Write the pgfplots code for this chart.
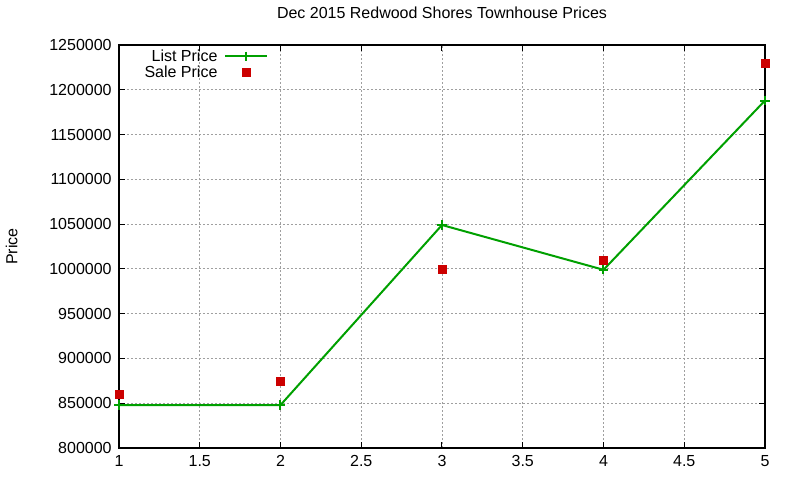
\documentclass[border=0pt]{standalone}
\usepackage{fontspec}
\setmainfont{Liberation Sans}
\usepackage{pgfplots}
\pgfplotsset{compat=1.18}
\definecolor{lgreen}{RGB}{0,160,0}
\definecolor{sred}{RGB}{204,0,0}
\pgfplotsset{
  longline/.style={legend image code/.code={\path (0cm,0cm); \draw[mark repeat=2,mark phase=2,##1] plot coordinates {(0.15cm,0cm) (0.7cm,0cm) (1.25cm,0cm)};}},
  midmark/.style={legend image code/.code={\path (0cm,0cm) (1.25cm,0cm); \draw[##1] plot coordinates {(0.7cm,0cm)};}},
}
\begin{document}
\begin{tikzpicture}
\path[use as bounding box] (-89.25pt,-24pt) rectangle (510.75pt,336pt);
\begin{axis}[
  at={(0pt,0pt)}, anchor=south west,
  scale only axis, width=484.5pt, height=302.25pt,
  xmin=1, xmax=5, ymin=800000, ymax=1250000,
  xtick={1,1.5,2,2.5,3,3.5,4,4.5,5},
  ytick={800000,850000,...,1250000},
  scaled y ticks=false,
  /pgf/number format/assume math mode=true,
  yticklabel style={/pgf/number format/fixed,/pgf/number format/1000 sep={}, xshift=-2pt},
  xticklabel style={yshift=-2.25pt},
  tick label style={font=\fontsize{12}{14}\selectfont},
  tick align=inside, tick pos=both, major tick length=4.5pt,
  tick style={black, line width=0.75pt},
  axis line style={black, line width=0.8pt},
  grid=major,
  major grid style={gray!75, line width=0.7pt, dash pattern=on 1.5pt off 1.5pt},
  title={Dec 2015 Redwood Shores Townhouse Prices},
  title style={at={(axis description cs:0.5,1.047)}, anchor=base, font=\fontsize{12}{14}\selectfont},
  ylabel={Price},
  ylabel style={at={(axis description cs:-0.166,0.5)}, anchor=center, font=\fontsize{12}{14}\selectfont},
  clip=false,
  legend plot pos=right,
  legend cell align=right,
  legend style={draw=none, fill=none, at={(axis description cs:0.037,0.993)}, anchor=north west,
    inner sep=0pt, row sep=0pt, font=\fontsize{12}{14}\selectfont, nodes={inner sep=1pt}},
]
\addplot[color=lgreen, line width=1.5pt, mark=+, mark size=3.5pt, longline,
  mark options={line width=1.5pt}]
  coordinates {(1,848000) (2,848000) (3,1049000) (4,999000) (5,1188000)};
\addlegendentry{List Price}
\addplot[only marks, color=sred, mark=square*, mark size=3pt, midmark]
  coordinates {(1,860000) (2,875000) (3,1000000) (4,1010000) (5,1230000)};
\addlegendentry{Sale Price}
\end{axis}
\end{tikzpicture}
\end{document}
